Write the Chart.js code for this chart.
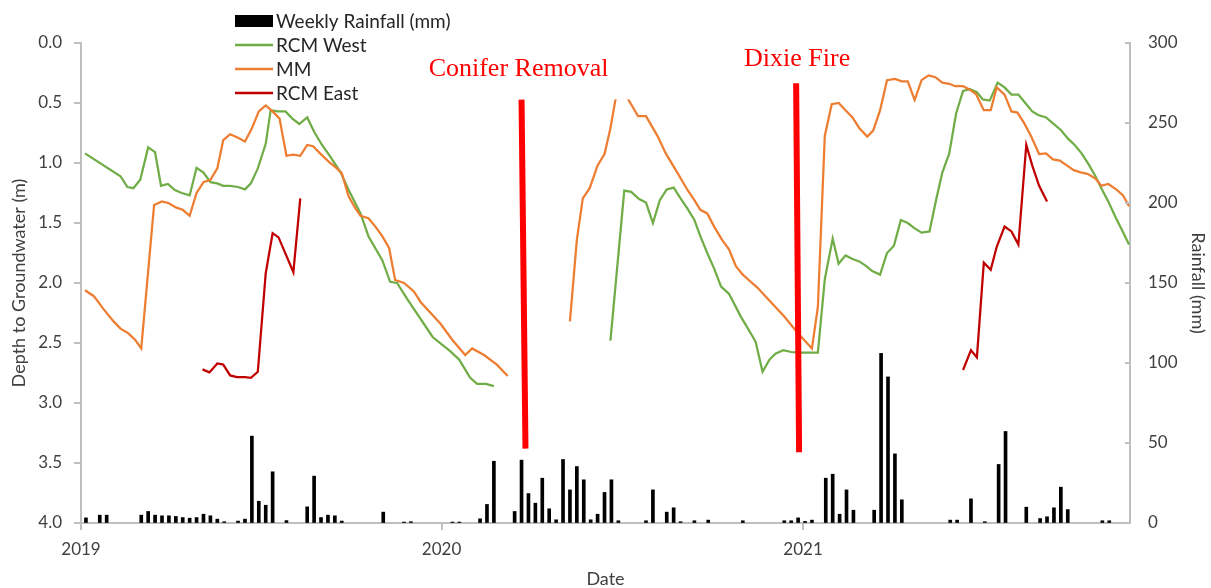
<!DOCTYPE html>
<html>
<head>
<meta charset="utf-8">
<script src="https://cdn.jsdelivr.net/npm/chart.js@4.4.1/dist/chart.umd.min.js"></script>
<style>
  html, body { margin: 0; padding: 0; background: #fff; }
  #wrap { width: 1211px; height: 588px; }
</style>
</head>
<body>
<div id="wrap"><canvas id="chart" width="1211" height="588"></canvas></div>
<script>
// x values are days since 2019-01-01

// weekly rainfall totals (mm), first week ending 2019-01-06
const rainStartDay = 5;
const weeklyRain = [
  3.2, 0, 4.9, 4.9, 0, 0, 0, 0, 4.9, 7.2,
  4.9, 4.5, 4.5, 4.1, 3.4, 3.0, 3.4, 5.5, 4.5, 2.4,
  0.8, 0, 1.2, 2.4, 54.3, 13.6, 11.1, 32, 0, 1.5,
  0, 0, 10.1, 29.3, 3.4, 4.9, 4.5, 1.2, 0, 0,
  0, 0, 0, 6.8, 0, 0, 0.6, 0.8, 0, 0,
  0, 0, 0, 0.6, 0.6, 0, 0, 2.6, 11.6, 38.6,
  0, 0, 7.2, 39.3, 18.4, 12.4, 28, 8.9, 2.0, 39.7,
  20.7, 35.3, 27, 2.0, 5.5, 19.1, 27, 1.4, 0, 0,
  0, 1.4, 20.7, 0, 6.8, 9.5, 0.8, 0, 1.4, 0,
  1.8, 0, 0, 0, 0, 1.4, 0, 0, 0, 0,
  0, 1.4, 1.4, 3.2, 1.0, 1.8, 0, 28, 30.5, 5.5,
  20.7, 8, 0, 0, 8, 106, 91.3, 43.2, 14.5, 0,
  0, 0, 0, 0, 0, 1.8, 1.8, 0, 15.1, 0,
  0.8, 0, 36.6, 57.2, 0, 0, 9.9, 0, 2.8, 3.9,
  9.5, 22.4, 8.4, 0, 0, 0, 0, 1.4, 1.4
];

// RCM West depth to groundwater (m)
const westDays = [
  4, 40, 47, 53, 60, 68, 75, 81, 88, 95,
  102, 110, 117, 124, 131, 138, 144, 151, 159, 166,
  172, 179, 187, 192, 199, 207, 214, 221, 229, 236,
  244, 251, 263, 271, 283, 291, 305, 313, 320, 330,
  356, 374, 383, 394, 401, 410, 418,
  480,
  536, 550, 557, 565, 572, 579, 586, 593, 600, 607,
  614, 621, 627, 634, 641, 648, 656, 668, 676, 683,
  690, 697, 703, 711, 719, 727, 734, 746, 753, 761, 767,
  774, 781, 788, 795, 801, 809, 816, 823, 830, 837,
  844, 851, 859, 866, 872, 879, 886, 893, 900, 907,
  913, 920, 928, 935, 942, 949, 956, 963, 969, 977,
  984, 992, 999, 1006, 1013, 1020, 1027, 1033, 1040, 1047,
  1054, 1061
];
const westDepth = [
  0.92, 1.11, 1.20, 1.21, 1.14, 0.87, 0.91, 1.19, 1.175, 1.225,
  1.25, 1.27, 1.04, 1.08, 1.16, 1.17, 1.19, 1.19, 1.20, 1.22,
  1.17, 1.045, 0.84, 0.56, 0.57, 0.57, 0.63, 0.675, 0.62, 0.74,
  0.85, 0.93, 1.08, 1.225, 1.42, 1.61, 1.81, 1.99, 2.00, 2.13,
  2.45, 2.57, 2.64, 2.79, 2.84, 2.84, 2.86,
  null,
  2.48, 1.23, 1.24, 1.30, 1.33, 1.50, 1.31, 1.22, 1.205, 1.295,
  1.38, 1.475, 1.61, 1.75, 1.88, 2.03, 2.09, 2.28, 2.39, 2.49,
  2.74, 2.64, 2.59, 2.56, 2.575, 2.58, 2.58, 2.58, 1.97, 1.63, 1.84,
  1.77, 1.80, 1.82, 1.86, 1.90, 1.93, 1.75, 1.69, 1.475, 1.50,
  1.545, 1.58, 1.57, 1.295, 1.08, 0.92, 0.585, 0.40, 0.385, 0.41,
  0.47, 0.48, 0.33, 0.37, 0.43, 0.43, 0.50, 0.57, 0.60, 0.62,
  0.67, 0.725, 0.795, 0.85, 0.92, 1.01, 1.11, 1.21, 1.32, 1.445,
  1.56, 1.68
];

// MM depth to groundwater (m)
const mmDays = [
  4, 13, 23, 33, 40, 48, 55, 61, 74, 82,
  89, 96, 103, 110, 117, 124, 131, 138, 144, 151,
  159, 166, 173, 180, 187, 194, 201, 208, 215, 222,
  229, 235, 242, 251, 259, 264, 271, 278, 283, 291,
  298, 305, 312, 318, 327, 337, 344, 364, 376, 389,
  396, 408, 421, 432,
  460,
  495, 502, 508, 515, 523, 530, 536, 541, 547, 554,
  564, 572, 584, 592, 604, 614, 621, 627, 634, 641,
  649, 656, 663, 670, 676, 685, 695, 712, 725, 740,
  746, 753, 760, 767, 774, 781, 788, 796, 802, 809,
  816, 824, 831, 837, 844, 851, 858, 865, 872, 879,
  885, 893, 899, 906, 914, 921, 927, 935, 942, 948,
  955, 962, 970, 977, 984, 991, 998, 1005, 1013, 1019,
  1027, 1033, 1040, 1048, 1055, 1061
];
const mmDepth = [
  2.06, 2.11, 2.22, 2.32, 2.38, 2.42, 2.475, 2.545, 1.35, 1.32,
  1.335, 1.37, 1.39, 1.44, 1.25, 1.16, 1.14, 1.045, 0.81, 0.76,
  0.79, 0.82, 0.71, 0.57, 0.52, 0.57, 0.63, 0.94, 0.93, 0.94,
  0.85, 0.86, 0.92, 0.99, 1.045, 1.085, 1.28, 1.38, 1.44, 1.46,
  1.53, 1.61, 1.71, 1.975, 2.00, 2.07, 2.16, 2.34, 2.475, 2.60,
  2.545, 2.60, 2.68, 2.775,
  null,
  2.32, 1.64, 1.295, 1.21, 1.02, 0.925, 0.71, 0.475, 0.25, 0.47,
  0.61, 0.61, 0.78, 0.92, 1.085, 1.225, 1.31, 1.39, 1.42, 1.53,
  1.64, 1.72, 1.86, 1.93, 1.975, 2.04, 2.13, 2.28, 2.41, 2.545,
  2.2, 0.775, 0.51, 0.50, 0.56, 0.62, 0.71, 0.78, 0.73, 0.56,
  0.31, 0.30, 0.32, 0.32, 0.475, 0.31, 0.27, 0.285, 0.33, 0.34,
  0.36, 0.36, 0.385, 0.425, 0.56, 0.56, 0.37, 0.43, 0.57, 0.58,
  0.67, 0.78, 0.925, 0.92, 0.97, 0.98, 1.02, 1.06, 1.08, 1.09,
  1.13, 1.19, 1.175, 1.22, 1.27, 1.36
];

// RCM East depth to groundwater (m)
const eastDays = [
  123, 130, 138, 144, 151, 158, 166, 172, 179, 187, 194, 200, 215, 222,
  560,
  893, 901, 907, 914, 921, 927, 935, 942, 949, 957, 963, 970, 978
];
const eastDepth = [
  2.72, 2.745, 2.67, 2.68, 2.77, 2.785, 2.785, 2.79, 2.74, 1.92, 1.585, 1.62, 1.91, 1.295,
  null,
  2.725, 2.56, 2.62, 1.83, 1.89, 1.70, 1.53, 1.57, 1.68, 0.85, 1.02, 1.19, 1.32
];

// event markers
const coniferDays = [446, 450];
const coniferDepth = [0.47, 3.38];
const dixieDays = [724, 727];
const dixieDepth = [0.335, 3.41];

const yearTicks = [0, 365, 731];
const yearLabels = ['2019', '2020', '2021'];
const xMaxDay = 1062;

const axisGrey = '#bfbfbf';
const textColor = '#404040';

function pairs(days, vals) {
  return days.map((d, i) => ({ x: d, y: vals[i] }));
}
// weeks with no rain get no bar
const rainPoints = weeklyRain.map((v, i) => ({ x: rainStartDay + 7 * i, y: v > 0 ? v : null }));

Chart.defaults.font.family = 'Lato, sans-serif';
Chart.defaults.color = textColor;

const legendOrder = ['Weekly Rainfall (mm)', 'RCM West', 'MM', 'RCM East'];

const overlay = {
  id: 'overlay',
  afterDraw(chart) {
    const ctx = chart.ctx;
    const xs = chart.scales.x, ys = chart.scales.y, y2 = chart.scales.y2;
    ctx.save();

    // small inside tick marks on the rainfall axis
    ctx.strokeStyle = axisGrey;
    ctx.lineWidth = 2;
    y2.ticks.forEach(t => {
      const py = y2.getPixelForValue(t.value);
      ctx.beginPath();
      ctx.moveTo(y2.left - 5, py);
      ctx.lineTo(y2.left, py);
      ctx.stroke();
    });

    // event labels (text boxes are white filled, like the original)
    ctx.font = '26px "Liberation Serif", serif';
    ctx.textAlign = 'center';
    ctx.textBaseline = 'alphabetic';

    const cTop = ys.getPixelForValue(coniferDepth[0]);
    const cx = xs.getPixelForValue(coniferDays[0]) - 3;
    ctx.fillStyle = '#fff';
    ctx.fillRect(cx - 97, 45, 222, cTop - 45);
    ctx.fillStyle = '#ff0000';
    ctx.fillText('Conifer Removal', cx, cTop - 23);

    const dTop = ys.getPixelForValue(dixieDepth[0]);
    const dx = xs.getPixelForValue(dixieDays[0]) + 1;
    ctx.fillText('Dixie Fire', dx, dTop - 17);

    // legend
    ctx.font = '19px Lato, sans-serif';
    ctx.textAlign = 'left';
    ctx.textBaseline = 'middle';
    legendOrder.forEach((name, i) => {
      const ds = chart.data.datasets.find(d => d.label === name);
      const rowY = 21 + 24 * i;
      if (ds.type === 'bar') {
        ctx.fillStyle = ds.backgroundColor;
        ctx.fillRect(235, rowY - 6, 38, 12);
      } else {
        ctx.strokeStyle = ds.borderColor;
        ctx.lineWidth = 2.5;
        ctx.beginPath();
        ctx.moveTo(235, rowY);
        ctx.lineTo(273, rowY);
        ctx.stroke();
      }
      ctx.fillStyle = '#262626';
      ctx.fillText(name, 276, rowY + 1);
    });
    ctx.restore();
  }
};

function lineSet(label, days, vals, color, width) {
  return {
    type: 'line',
    label: label,
    data: pairs(days, vals),
    borderColor: color,
    backgroundColor: color,
    borderWidth: width,
    pointRadius: 0,
    tension: 0,
    spanGaps: false,
    yAxisID: 'y'
  };
}

new Chart(document.getElementById('chart'), {
  type: 'bar',
  data: {
    datasets: [
      lineSet('Conifer Removal', coniferDays, coniferDepth, '#ff0000', 6),
      lineSet('Dixie Fire', dixieDays, dixieDepth, '#ff0000', 6),
      lineSet('RCM East', eastDays, eastDepth, '#c00000', 2.25),
      lineSet('MM', mmDays, mmDepth, '#ed7d31', 2.25),
      lineSet('RCM West', westDays, westDepth, '#70ad47', 2.25),
      {
        type: 'bar',
        label: 'Weekly Rainfall (mm)',
        data: rainPoints,
        backgroundColor: '#000000',
        barThickness: 3,
        yAxisID: 'y2'
      }
    ]
  },
  options: {
    responsive: false,
    animation: false,
    layout: { padding: { top: 43, left: 0, right: 0, bottom: 0 } },
    plugins: {
      legend: { display: false },
      tooltip: { enabled: false }
    },
    scales: {
      x: {
        type: 'linear',
        min: 0,
        max: xMaxDay,
        offset: false,
        grid: { drawOnChartArea: false, offset: false, color: axisGrey, tickLength: 7, lineWidth: 2 },
        border: { color: axisGrey, width: 2 },
        ticks: {
          font: { size: 17 },
          padding: 9,
          maxRotation: 0,
          callback: v => {
            const i = yearTicks.indexOf(v);
            return i >= 0 ? yearLabels[i] : '';
          }
        },
        afterBuildTicks: s => { s.ticks = yearTicks.map(v => ({ value: v })); },
        afterFit: s => { s.height = 65; },
        title: { display: true, text: 'Date', font: { size: 18 }, padding: { top: 0, bottom: -2 } }
      },
      y: {
        type: 'linear',
        position: 'left',
        reverse: true,
        min: 0,
        max: 4,
        ticks: { stepSize: 0.5, font: { size: 17 }, padding: 12, callback: v => v.toFixed(1) },
        grid: { drawOnChartArea: false, color: axisGrey, tickLength: 7, lineWidth: 2 },
        border: { color: axisGrey, width: 2 },
        afterFit: s => { s.width = 81; },
        title: { display: true, text: 'Depth to Groundwater (m)', font: { size: 18 }, padding: 8 }
      },
      y2: {
        type: 'linear',
        position: 'right',
        min: 0,
        max: 300,
        ticks: { stepSize: 50, font: { size: 17 }, padding: 18 },
        grid: { drawOnChartArea: false, drawTicks: false },
        border: { color: axisGrey, width: 2 },
        afterFit: s => { s.width = 81; },
        title: { display: true, text: 'Rainfall (mm)', font: { size: 18 }, padding: 2 }
      }
    }
  },
  plugins: [overlay]
});
</script>
</body>
</html>
